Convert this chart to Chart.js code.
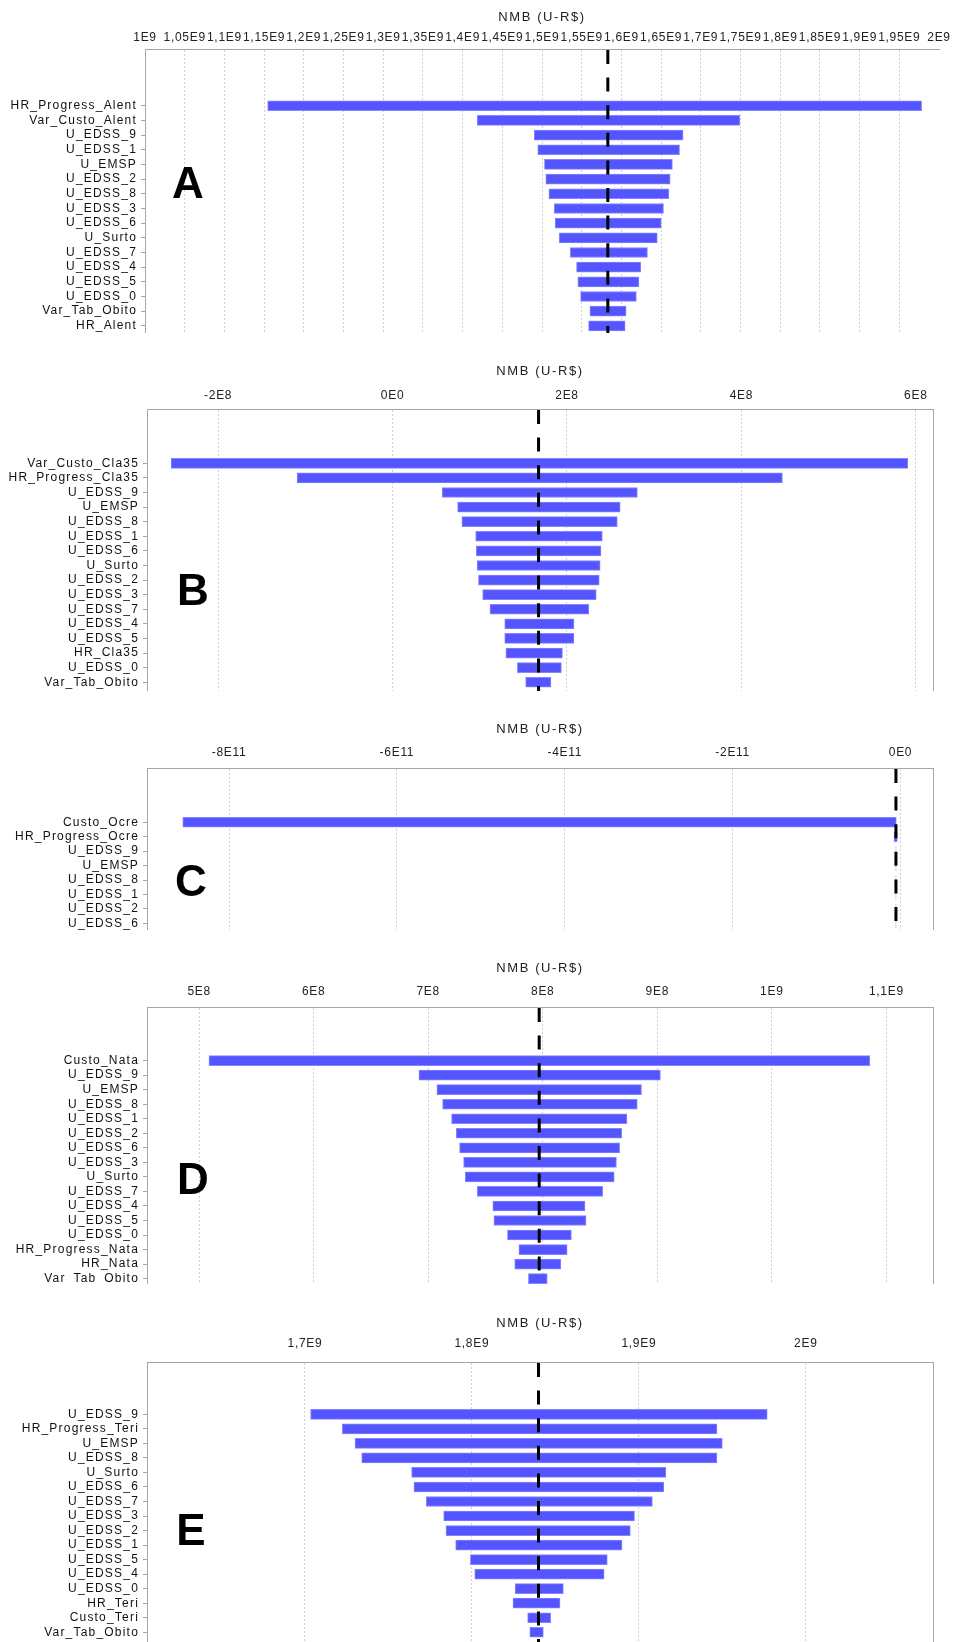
<!DOCTYPE html>
<html>
<head>
<meta charset="utf-8">
<script src="https://cdn.jsdelivr.net/npm/chart.js@4.4.0/dist/chart.umd.min.js"></script>
<style>
  html, body { margin: 0; padding: 0; background: #fff; }
  #page { position: relative; width: 957px; height: 1642px; overflow: hidden; }
  .panel { position: absolute; left: 0; }
  .panel canvas { display: block; }
  .tag { position: absolute; font: bold 44px "Liberation Sans", Arial, sans-serif; color: #000;
         line-height: 1; transform: translate(-50%, -50%); }
</style>
</head>
<body>
<div id="page">
  <div class="panel" style="top:0px"><canvas id="chartA"></canvas></div>
  <div class="panel" style="top:350px"><canvas id="chartB"></canvas></div>
  <div class="panel" style="top:708px"><canvas id="chartC"></canvas></div>
  <div class="panel" style="top:948px"><canvas id="chartD"></canvas></div>
  <div class="panel" style="top:1302px"><canvas id="chartE"></canvas></div>
  <div class="tag" style="left:188px;top:183px">A</div>
  <div class="tag" style="left:193px;top:590px">B</div>
  <div class="tag" style="left:191px;top:881px">C</div>
  <div class="tag" style="left:193px;top:1179px">D</div>
  <div class="tag" style="left:191px;top:1530px">E</div>
</div>
<script>
// --- A: Alent ---
const labelsA = ['HR_Progress_Alent', 'Var_Custo_Alent', 'U_EDSS_9', 'U_EDSS_1', 'U_EMSP', 'U_EDSS_2',
  'U_EDSS_8', 'U_EDSS_3', 'U_EDSS_6', 'U_Surto', 'U_EDSS_7', 'U_EDSS_4', 'U_EDSS_5', 'U_EDSS_0',
  'Var_Tab_Obito', 'HR_Alent'];
const lowA = [1.1545e9, 1.4184e9, 1.4902e9, 1.4947e9, 1.5031e9, 1.5048e9, 1.5087e9, 1.5155e9,
  1.5166e9, 1.5217e9, 1.5357e9, 1.5435e9, 1.5452e9, 1.5486e9, 1.5604e9, 1.5587e9];
const highA = [1.9781e9, 1.7490e9, 1.6777e9, 1.6732e9, 1.6642e9, 1.6614e9, 1.6598e9, 1.6530e9,
  1.6502e9, 1.6452e9, 1.6328e9, 1.6244e9, 1.6221e9, 1.6188e9, 1.6059e9, 1.6047e9];
const baseA = 1.5829e9;
const ticksA = [1e9, 1.05e9, 1.1e9, 1.15e9, 1.2e9, 1.25e9, 1.3e9, 1.35e9, 1.4e9, 1.45e9, 1.5e9,
  1.55e9, 1.6e9, 1.65e9, 1.7e9, 1.75e9, 1.8e9, 1.85e9, 1.9e9, 1.95e9, 2e9];
const tickTextA = ['1E9', '1,05E9', '1,1E9', '1,15E9', '1,2E9', '1,25E9', '1,3E9', '1,35E9', '1,4E9',
  '1,45E9', '1,5E9', '1,55E9', '1,6E9', '1,65E9', '1,7E9', '1,75E9', '1,8E9', '1,85E9', '1,9E9',
  '1,95E9', '2E9'];

// --- B: Cla35 ---
const labelsB = ['Var_Custo_Cla35', 'HR_Progress_Cla35', 'U_EDSS_9', 'U_EMSP', 'U_EDSS_8', 'U_EDSS_1',
  'U_EDSS_6', 'U_Surto', 'U_EDSS_2', 'U_EDSS_3', 'U_EDSS_7', 'U_EDSS_4', 'U_EDSS_5', 'HR_Cla35',
  'U_EDSS_0', 'Var_Tab_Obito'];
const lowB = [-2.540e8, -1.095e8, 0.569e8, 0.746e8, 0.795e8, 0.953e8, 0.960e8, 0.970e8, 0.985e8,
  1.033e8, 1.117e8, 1.286e8, 1.286e8, 1.299e8, 1.431e8, 1.526e8];
const highB = [5.908e8, 4.470e8, 2.807e8, 2.610e8, 2.577e8, 2.405e8, 2.390e8, 2.380e8, 2.370e8,
  2.335e8, 2.250e8, 2.080e8, 2.080e8, 1.948e8, 1.936e8, 1.816e8];
const baseB = 1.674e8;
const ticksB = [-2e8, 0, 2e8, 4e8, 6e8];
const tickTextB = ['-2E8', '0E0', '2E8', '4E8', '6E8'];

// --- C: Ocre ---
const labelsC = ['Custo_Ocre', 'HR_Progress_Ocre', 'U_EDSS_9', 'U_EMSP', 'U_EDSS_8', 'U_EDSS_1',
  'U_EDSS_2', 'U_EDSS_6'];
const lowC = [-8.552e11, -7.7e9, -5.45e9, -5.45e9, -5.45e9, -5.45e9, -5.45e9, -5.45e9];
const highC = [-5.0e9, -3.8e9, -5.35e9, -5.35e9, -5.35e9, -5.35e9, -5.35e9, -5.35e9];
const baseC = -5.4e9;
const ticksC = [-8e11, -6e11, -4e11, -2e11, 0];
const tickTextC = ['-8E11', '-6E11', '-4E11', '-2E11', '0E0'];

// --- D: Nata ---
const labelsD = ['Custo_Nata', 'U_EDSS_9', 'U_EMSP', 'U_EDSS_8', 'U_EDSS_1', 'U_EDSS_2', 'U_EDSS_6',
  'U_EDSS_3', 'U_Surto', 'U_EDSS_7', 'U_EDSS_4', 'U_EDSS_5', 'U_EDSS_0', 'HR_Progress_Nata',
  'HR_Nata', 'Var_Tab_Obito'];
const lowD = [5.086e8, 6.919e8, 7.076e8, 7.126e8, 7.204e8, 7.245e8, 7.274e8, 7.309e8, 7.324e8,
  7.429e8, 7.564e8, 7.574e8, 7.692e8, 7.792e8, 7.755e8, 7.875e8];
const highD = [10.855e8, 9.027e8, 8.862e8, 8.825e8, 8.735e8, 8.689e8, 8.671e8, 8.643e8, 8.624e8,
  8.523e8, 8.369e8, 8.378e8, 8.250e8, 8.213e8, 8.158e8, 8.039e8];
const baseD = 7.969e8;
const ticksD = [5e8, 6e8, 7e8, 8e8, 9e8, 1e9, 1.1e9];
const tickTextD = ['5E8', '6E8', '7E8', '8E8', '9E8', '1E9', '1,1E9'];

// --- E: Teri ---
const labelsE = ['U_EDSS_9', 'HR_Progress_Teri', 'U_EMSP', 'U_EDSS_8', 'U_Surto', 'U_EDSS_6',
  'U_EDSS_7', 'U_EDSS_3', 'U_EDSS_2', 'U_EDSS_1', 'U_EDSS_5', 'U_EDSS_4', 'U_EDSS_0', 'HR_Teri',
  'Custo_Teri', 'Var_Tab_Obito'];
const lowE = [1.7034e9, 1.7224e9, 1.7300e9, 1.7340e9, 1.7639e9, 1.7653e9, 1.7727e9, 1.7831e9,
  1.7845e9, 1.7903e9, 1.7991e9, 1.8017e9, 1.8259e9, 1.8246e9, 1.8334e9, 1.8347e9];
const highE = [1.9769e9, 1.9468e9, 1.9500e9, 1.9468e9, 1.9162e9, 1.9150e9, 1.9081e9, 1.8974e9,
  1.8949e9, 1.8899e9, 1.8811e9, 1.8792e9, 1.8548e9, 1.8528e9, 1.8472e9, 1.8428e9];
const baseE = 1.8399e9;
const ticksE = [1.7e9, 1.8e9, 1.9e9, 2e9];
const tickTextE = ['1,7E9', '1,8E9', '1,9E9', '2E9'];

Chart.defaults.font.family = '"Liberation Sans", Arial, sans-serif';

const GREY = '#a6a6a6';

// linear scale whose labels and title get the wide letter spacing of the original (Java) render
class SpacedLinearScale extends Chart.LinearScale {
  drawLabels(area) {
    const ctx = this.ctx;
    ctx.letterSpacing = this.options.labelSpacing || '0px';
    super.drawLabels(area);
    ctx.letterSpacing = '0px';
  }
  drawTitle() {
    const ctx = this.ctx;
    ctx.letterSpacing = this.options.titleSpacing || '0px';
    super.drawTitle();
    ctx.letterSpacing = '0px';
  }
}
SpacedLinearScale.id = 'spacedLinear';
SpacedLinearScale.defaults = {};
Chart.register(SpacedLinearScale);

// base-case dashed line and right frame edge
const tornadoDecor = {
  id: 'tornadoDecor',
  afterDatasetsDraw(chart, args, opts) {
    const { ctx, chartArea: a, scales: { x } } = chart;
    ctx.save();
    if (opts.rightEdge) {
      ctx.strokeStyle = GREY;
      ctx.lineWidth = 1;
      ctx.beginPath();
      ctx.moveTo(Math.round(a.right) + 0.5, a.top);
      ctx.lineTo(Math.round(a.right) + 0.5, a.bottom);
      ctx.stroke();
    }
    const px = x.getPixelForValue(opts.base);
    ctx.strokeStyle = '#000';
    ctx.lineWidth = 3;
    ctx.setLineDash([14, 13.6]);
    ctx.beginPath();
    ctx.moveTo(px, a.top + 1);
    ctx.lineTo(px, a.bottom);
    ctx.stroke();
    ctx.restore();
  }
};

function tornado(id, p) {
  const canvas = document.getElementById(id);
  canvas.width = 957;
  canvas.height = p.height;
  return new Chart(canvas, {
    type: 'bar',
    data: {
      datasets: [{
        data: p.labels.map((name, i) => ({ y: i, x: [p.low[i], p.high[i]] })),
        backgroundColor: '#5555ff',
        borderColor: '#8585ff',
        borderWidth: 1,
        borderSkipped: false,
        barThickness: 10
      }]
    },
    options: {
      indexAxis: 'y',
      responsive: false,
      animation: false,
      layout: { padding: { left: 0, top: 0, bottom: 0, right: 957 - p.right } },
      plugins: {
        legend: { display: false },
        tooltip: { enabled: false },
        tornadoDecor: { base: p.base, rightEdge: p.rightEdge }
      },
      scales: {
        x: {
          type: 'spacedLinear',
          position: 'top',
          min: p.xMin,
          max: p.xMax,
          labelSpacing: '0.7px',
          titleSpacing: '1.6px',
          afterBuildTicks: s => { s.ticks = p.ticks.map(v => ({ value: v })); },
          afterFit: s => { s.height = p.axisH; s.paddingLeft = 0; s.paddingRight = 0; },
          ticks: {
            autoSkip: false, maxRotation: 0, minRotation: 0,
            padding: p.tickPad, color: '#222', font: { size: 12 },
            callback: (v, i) => p.tickText[i]
          },
          grid: {
            drawTicks: false,
            lineWidth: 1,
            color: c => (c.tick && (c.tick.value <= p.xMin || c.tick.value >= p.xMax)) ? 'rgba(0,0,0,0)' : '#cfcfcf'
          },
          border: { display: true, color: GREY, dash: [2, 2] },
          title: {
            display: true, text: 'NMB (U-R$)', color: '#222', font: { size: 13 },
            padding: { top: p.titlePad, bottom: 0 }
          }
        },
        y: {
          type: 'spacedLinear',
          reverse: true,
          offset: false,
          min: p.yMin,
          max: p.yMax,
          labelSpacing: '1.2px',
          afterBuildTicks: s => { s.ticks = p.labels.map((_, i) => ({ value: i })); },
          afterFit: s => { s.width = p.left; s.paddingTop = 0; s.paddingBottom = 0; },
          ticks: {
            autoSkip: false, padding: 4, color: '#111', font: { size: 12 },
            callback: v => p.labels[v]
          },
          grid: { offset: false, drawOnChartArea: false, drawTicks: true, tickLength: 4, color: GREY },
          border: { display: true, color: GREY }
        }
      }
    },
    plugins: [tornadoDecor]
  });
}

tornado('chartA', {
  labels: labelsA, low: lowA, high: highA, base: baseA, ticks: ticksA, tickText: tickTextA,
  height: 333, axisH: 49, left: 145, right: 939, xMin: 1e9, xMax: 2e9,
  yMin: -3.87, yMax: 15.49, titlePad: 10, tickPad: 4, rightEdge: false
});
tornado('chartB', {
  labels: labelsB, low: lowB, high: highB, base: baseB, ticks: ticksB, tickText: tickTextB,
  height: 341, axisH: 59, left: 147, right: 933, xMin: -2.816e8, xMax: 6.197e8,
  yMin: -3.72, yMax: 15.6, titlePad: 14, tickPad: 6, rightEdge: true
});
tornado('chartC', {
  labels: labelsC, low: lowC, high: highC, base: baseC, ticks: ticksC, tickText: tickTextC,
  height: 222, axisH: 60, left: 147, right: 933, xMin: -8.978e11, xMax: 0.3875e11,
  yMin: -3.76, yMax: 7.46, titlePad: 14, tickPad: 8, rightEdge: true
});
tornado('chartD', {
  labels: labelsD, low: lowD, high: highD, base: baseD, ticks: ticksD, tickText: tickTextD,
  height: 336, axisH: 59, left: 147, right: 933, xMin: 4.545e8, xMax: 1.1407e9,
  yMin: -3.69, yMax: 15.37, titlePad: 13, tickPad: 8, rightEdge: true
});
tornado('chartE', {
  labels: labelsE, low: lowE, high: highE, base: baseE, ticks: ticksE, tickText: tickTextE,
  height: 340, axisH: 60, left: 147, right: 933, xMin: 1.6054e9, xMax: 2.0762e9,
  yMin: -3.6, yMax: 15.67, titlePad: 14, tickPad: 11, rightEdge: true
});
</script>
</body>
</html>
